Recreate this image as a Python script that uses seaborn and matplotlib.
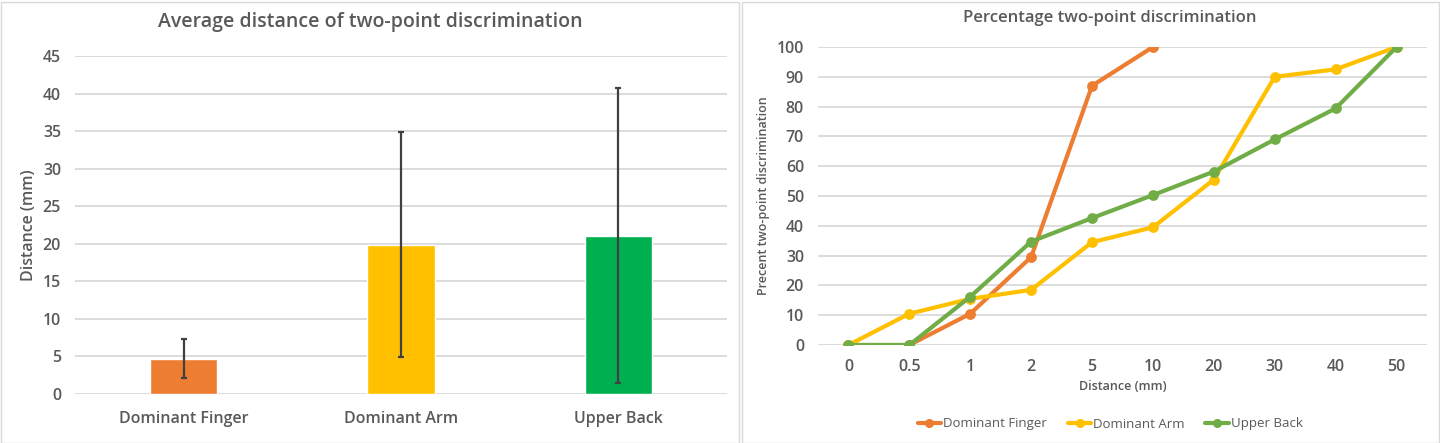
import matplotlib
matplotlib.use("Agg")
import matplotlib.pyplot as plt
import seaborn as sns
import pandas as pd
import numpy as np
from matplotlib.patches import Rectangle
from matplotlib.lines import Line2D

# ---- data ----
regions = ["Dominant Finger", "Dominant Arm", "Upper Back"]
mean_distance = [4.7, 19.9, 21.1]
sd_distance = [2.6, 14.95, 19.7]

distances = ["0", "0.5", "1", "2", "5", "10", "20", "30", "40", "50"]
pct_finger = [0, 0, 10.5, 29.5, 87, 100, None, None, None, None]
pct_arm = [0, 10.5, 15.5, 18.5, 34.5, 39.5, 55.5, 90, 92.5, 100]
pct_back = [0, 0, 16.2, 34.7, 42.6, 50.3, 58.2, 69, 79.4, 100]

bar_colors = ["#ED7D31", "#FFC000", "#00B050"]
line_colors = ["#ED7D31", "#FFC000", "#70AD47"]
TXT = "#595959"
GRID = "#D9D9D9"

sns.set_theme(style="white")
plt.rcParams["font.family"] = ["Open Sans", "DejaVu Sans"]

fig = plt.figure(figsize=(14.4, 4.43), dpi=100)

# panel borders
fig.patches.append(Rectangle((0.5/1440, 0.5/443), 739/1440, 441/443, transform=fig.transFigure,
                             fill=False, edgecolor=GRID, linewidth=1))
fig.patches.append(Rectangle((741.5/1440, 0.5/443), 697.5/1440, 441/443, transform=fig.transFigure,
                             fill=False, edgecolor=GRID, linewidth=1))

# ---- left: bar chart ----
ax1 = fig.add_axes([75/1440, 1-394/443, (727-75)/1440, (394-56)/443])
df_bar = pd.DataFrame({"region": regions, "mean": mean_distance})
sns.barplot(data=df_bar, x="region", y="mean", hue="region", palette=bar_colors,
            width=0.31, ax=ax1, legend=False, saturation=1, errorbar=None, zorder=2)
ax1.errorbar(x=np.arange(len(regions)), y=mean_distance, yerr=sd_distance, fmt="none",
             ecolor="#404040", elinewidth=1.6, capsize=2, capthick=1.6, zorder=3)
ax1.set_ylim(0, 45)
ax1.set_xlim(-0.5, 2.5)
ax1.set_yticks(range(0, 46, 5))
ax1.yaxis.grid(True, color=GRID, linewidth=1.3, zorder=0)
ax1.set_axisbelow(True)
for s in ax1.spines.values():
    s.set_visible(False)
ax1.tick_params(axis="both", length=0, labelsize=11.5, labelcolor=TXT, pad=10)
for lab in ax1.get_xticklabels() + ax1.get_yticklabels():
    lab.set_fontweight("semibold")
ax1.tick_params(axis="x", pad=12)
ax1.set_xlabel("")
ax1.set_ylabel("Distance (mm)", fontsize=11.5, color=TXT, fontweight="semibold", labelpad=4)
fig.text(370/1440, 1-22/443, "Average distance of two-point discrimination", ha="center",
         va="center", fontsize=14, color=TXT, fontweight="semibold")

# ---- right: line chart ----
ax2 = fig.add_axes([818/1440, 1-345/443, (1427-818)/1440, (345-47)/443])
rows = []
for name, vals in zip(regions, [pct_finger, pct_arm, pct_back]):
    for d, v in zip(distances, vals):
        if v is not None:
            rows.append({"dist": d, "pct": v, "series": name})
df_line = pd.DataFrame(rows)
sns.pointplot(data=df_line, x="dist", y="pct", hue="series", order=distances,
              hue_order=regions, palette=line_colors, markers="o", markersize=5.5,
              linewidth=3.0, errorbar=None, ax=ax2, legend=False)
ax2.set_ylim(0, 100)
ax2.set_xlim(-0.5, 9.5)
ax2.set_yticks(range(0, 101, 10))
ax2.yaxis.grid(True, color=GRID, linewidth=1.3, zorder=0)
ax2.set_axisbelow(True)
for s in ax2.spines.values():
    s.set_visible(False)
ax2.tick_params(axis="both", length=0, labelsize=11.5, labelcolor=TXT, pad=10)
for lab in ax2.get_xticklabels() + ax2.get_yticklabels():
    lab.set_fontweight("semibold")
ax2.set_xlabel("Distance (mm)", fontsize=9, color=TXT, fontweight="semibold", labelpad=4)
ax2.set_ylabel("Precent two-point discrimination", fontsize=9, color=TXT,
               fontweight="semibold", labelpad=5)
fig.text(1110/1440, 1-18/443, "Percentage two-point discrimination", ha="center",
         va="center", fontsize=12, color=TXT, fontweight="semibold")

handles = [Line2D([0], [0], color=c, lw=3.0, marker="o", markersize=5.5) for c in line_colors]
leg = fig.legend(handles, regions, loc="center", bbox_to_anchor=(1110/1440, 1-424/443),
                 ncol=3, frameon=False, fontsize=9.5, handlelength=1.8, handletextpad=0.1,
                 columnspacing=1.6, labelcolor=TXT)

fig.savefig("out.png", dpi=100, facecolor="white")
